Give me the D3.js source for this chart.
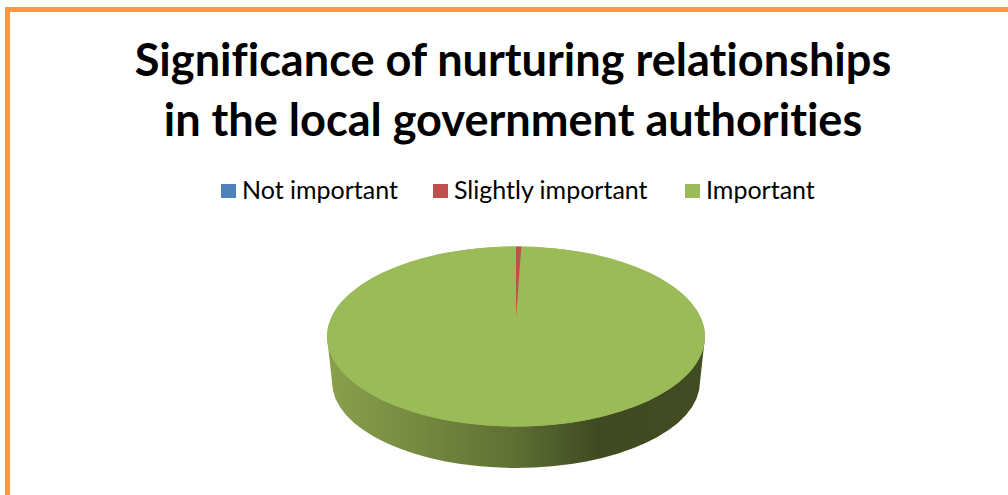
<!DOCTYPE html>
<html>
<head>
<meta charset="utf-8">
<script src="https://cdn.jsdelivr.net/npm/d3@7"></script>
<style>
  html, body { margin: 0; padding: 0; background: #fff; }
  svg { display: block; }
  text { font-family: Lato, "Open Sans", sans-serif; fill: #000; font-variant-ligatures: none; }
</style>
</head>
<body>
<script>
// Chart content
const titleLines = ["Significance of nurturing relationships", "in the local government authorities"];
const categories = ["Not important", "Slightly important", "Important"];
const values = [0, 0.45, 99.55];
const colors = ["#4f81bd", "#c0504d", "#9bbb59"];
const legendSwatchX = [221, 433, 685];

const width = 1008, height = 495;
const svg = d3.select("body").append("svg").attr("width", width).attr("height", height);

// Card frame: open at the bottom and right
svg.append("path")
  .attr("d", "M7.5,495V9.5H1008")
  .attr("fill", "none").attr("stroke", "#fa9849").attr("stroke-width", 5);

// Title
svg.selectAll("text.title").data(titleLines).join("text")
  .attr("class", "title")
  .attr("x", 513)
  .attr("y", (d, i) => 76 + i * 60)
  .attr("text-anchor", "middle")
  .attr("font-size", 45.1)
  .attr("font-weight", 700)
  .text(d => d);

// Legend
const legend = svg.selectAll("g.legend").data(categories).join("g")
  .attr("class", "legend")
  .attr("transform", (d, i) => `translate(${legendSwatchX[i]},184)`);
legend.append("rect").attr("width", 15).attr("height", 14)
  .attr("fill", (d, i) => colors[i]);
legend.append("text").attr("x", 21).attr("y", 15)
  .attr("font-size", 25).text(d => d);

// Pie geometry: tilted disc seen in perspective
const face = { cx: 516, cy: 336.5, rx: 189, ry: 90 };
const base = { cx: 516, cy: 382, rx: 184, ry: 86 };
const apex = { x: 516, y: 318 };

const defs = svg.append("defs");
const grad = defs.append("linearGradient").attr("id", "rim")
  .attr("gradientUnits", "userSpaceOnUse")
  .attr("x1", base.cx - base.rx).attr("x2", base.cx + base.rx).attr("y1", 0).attr("y2", 0);
[[0, "#889f4b"], [0.25, "#748840"], [0.5, "#5e6f33"], [0.72, "#3f4a22"], [1, "#414c23"]]
  .forEach(([o, c]) => grad.append("stop").attr("offset", o).attr("stop-color", c));

// Rim of the disc, wrapped under the top face
svg.append("path")
  .attr("fill", "url(#rim)")
  .attr("d", `M${face.cx - face.rx},${face.cy}
    L${base.cx - base.rx},${base.cy}
    A${base.rx},${base.ry} 0 0 0 ${base.cx + base.rx},${base.cy}
    L${face.cx + face.rx},${face.cy}Z`);

// Fill the top face beneath the slices so no seam shows
svg.append("ellipse")
  .attr("cx", face.cx).attr("cy", face.cy).attr("rx", face.rx).attr("ry", face.ry)
  .attr("fill", colors[2]);

// Slices of the top face, laid out clockwise from twelve o'clock
const pie = d3.pie().sort(null).value(d => d.value);
const arcs = pie(categories.map((name, i) => ({ name, value: values[i], color: colors[i] })));
const onRim = a => [face.cx + face.rx * Math.sin(a), face.cy - face.ry * Math.cos(a)];

function slicePath(d) {
  const [x0, y0] = onRim(d.startAngle);
  const [x1, y1] = onRim(d.endAngle);
  const large = d.endAngle - d.startAngle > Math.PI ? 1 : 0;
  return `M${apex.x},${apex.y}L${x0},${y0}A${face.rx},${face.ry} 0 ${large} 1 ${x1},${y1}Z`;
}

// Largest slice first so the thin wedge stays on top
svg.selectAll("path.slice")
  .data(arcs.filter(d => d.value > 0).sort((a, b) => b.value - a.value))
  .join("path")
  .attr("class", "slice")
  .attr("fill", d => d.data.color)
  .attr("d", slicePath);
</script>
</body>
</html>
